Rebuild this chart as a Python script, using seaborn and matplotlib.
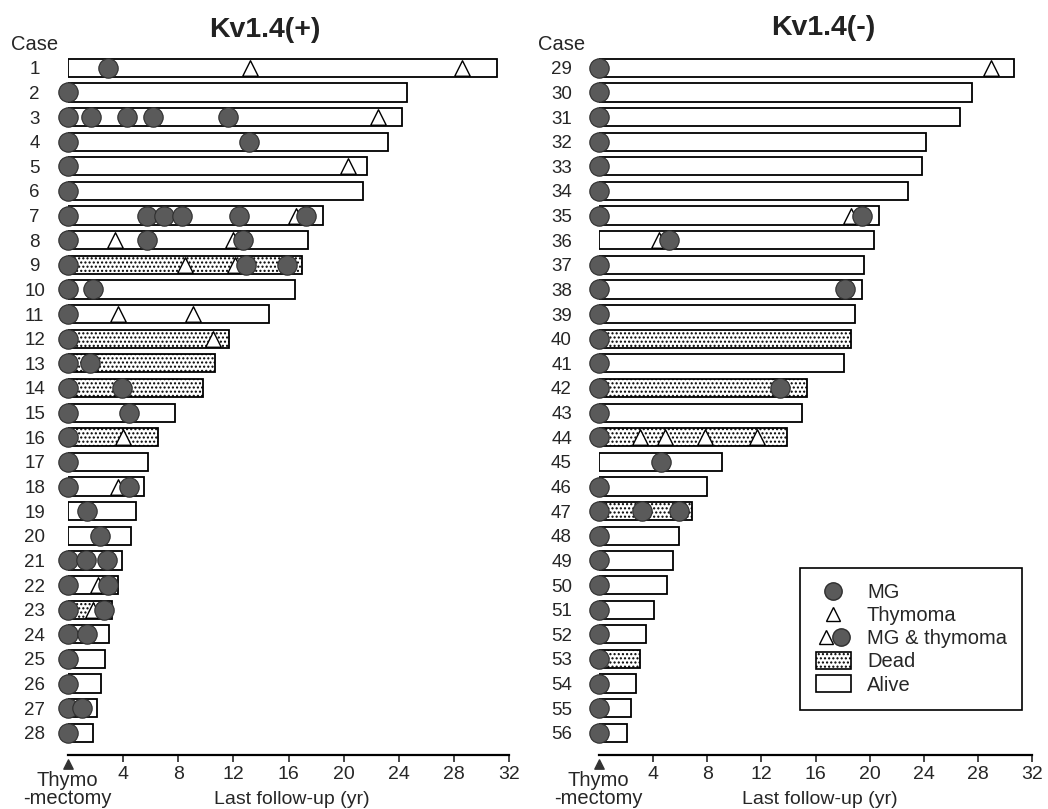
import matplotlib
matplotlib.use("Agg")
import matplotlib.pyplot as plt
import matplotlib.transforms as mtransforms
from matplotlib.lines import Line2D
from matplotlib.patches import Patch
from matplotlib.legend_handler import HandlerTuple
import numpy as np
import pandas as pd
import seaborn as sns

sns.set_style("white")
plt.rcParams["font.family"] = ["Liberation Sans", "DejaVu Sans"]
plt.rcParams["hatch.linewidth"] = 1.0
plt.rcParams["hatch.color"] = "black"

# ---------------- data: Kv1.4(+) ----------------
pos_cases = list(range(1, 29))
pos_followup = [31.1, 24.6, 24.2, 23.2, 21.7, 21.4, 18.5, 17.4, 17.0, 16.5,
                14.6, 11.7, 10.7, 9.8, 7.8, 6.5, 5.8, 5.5, 4.9, 4.6,
                3.9, 3.6, 3.2, 3.0, 2.7, 2.4, 2.1, 1.8]
pos_dead = [9, 12, 13, 14, 16, 23]
pos_mg = {1: [2.9], 2: [0], 3: [0, 1.7, 4.3, 6.2, 11.6], 4: [0, 13.1], 5: [0],
          6: [0], 7: [0, 5.7, 7.0, 8.3, 12.4], 8: [0, 5.7], 9: [0, 15.9],
          10: [0, 1.8], 11: [0], 12: [0], 13: [0, 1.6], 14: [0, 3.9],
          15: [0, 4.4], 16: [0], 17: [0], 18: [0], 19: [1.4], 20: [2.3],
          21: [0, 1.3, 2.8], 22: [0], 23: [0], 24: [0, 1.4], 25: [0], 26: [0],
          27: [0, 1.0], 28: [0]}
pos_thymoma = {1: [13.2, 28.6], 3: [22.5], 5: [20.3], 8: [3.4], 9: [8.5],
               11: [3.6, 9.1], 12: [10.5], 16: [4.0]}
pos_both = {7: [17.3], 8: [12.7], 9: [12.9], 18: [4.4], 22: [2.9], 23: [2.6]}

# ---------------- data: Kv1.4(-) ----------------
neg_cases = list(range(29, 57))
neg_followup = [30.7, 27.6, 26.7, 24.2, 23.9, 22.8, 20.7, 20.3, 19.6, 19.4,
                18.9, 18.6, 18.1, 15.4, 15.0, 13.9, 9.1, 8.0, 6.9, 5.9,
                5.5, 5.0, 4.1, 3.5, 3.0, 2.7, 2.4, 2.1]
neg_dead = [40, 42, 44, 47, 53]
neg_mg = {c: [0] for c in neg_cases if c not in (36, 45)}
neg_mg[38] = [0, 18.2]
neg_mg[42] = [0, 13.4]
neg_mg[45] = [4.6]
neg_mg[47] = [0, 3.2, 5.9]
neg_thymoma = {29: [29.0], 44: [3.0, 4.9, 7.8, 11.7]}
neg_both = {35: [19.4], 36: [5.2]}

xticks = [4, 8, 12, 16, 20, 24, 28, 32]

MG_COLOR = "#5a5a5a"
MG_EDGE = "#2e2e2e"

W, H = 1048, 809
fig = plt.figure(figsize=(W / 100, H / 100), dpi=100)


def events_df(events, idx):
    rows = [(idx[c], y) for c, ys in events.items() for y in ys]
    return pd.DataFrame(rows, columns=["row", "year"])


def draw(ax, cases, followup, dead, mg, thy, both, label_pad):
    df = pd.DataFrame({"case": [str(c) for c in cases],
                       "followup": followup,
                       "status": ["Dead" if c in dead else "Alive" for c in cases]})
    sns.barplot(data=df, x="followup", y="case", order=list(df["case"]),
                orient="h", color="white", saturation=1, edgecolor="black",
                linewidth=1.3, width=0.74, errorbar=None, ax=ax, zorder=2)
    for patch, st in zip(ax.patches, df["status"]):
        if st == "Dead":
            patch.set_hatch("....")
    idx = {c: i for i, c in enumerate(cases)}

    tdf = events_df(thy, idx)
    if len(tdf):
        sns.scatterplot(data=tdf, x="year", y="row", marker="^", s=125,
                        color="white", edgecolor="black", linewidth=1.0,
                        ax=ax, zorder=4, clip_on=False, legend=False)
    bdf = events_df(both, idx)
    if len(bdf):
        bdf_t = bdf.assign(year=bdf["year"] - 0.75)
        sns.scatterplot(data=bdf_t, x="year", y="row", marker="^", s=125,
                        color="white", edgecolor="black", linewidth=1.0,
                        ax=ax, zorder=4, clip_on=False, legend=False)
        sns.scatterplot(data=bdf, x="year", y="row", marker="o", s=195,
                        color=MG_COLOR, edgecolor=MG_EDGE, linewidth=0.8,
                        ax=ax, zorder=5, clip_on=False, legend=False)
    mdf = events_df(mg, idx)
    sns.scatterplot(data=mdf, x="year", y="row", marker="o", s=195,
                    color=MG_COLOR, edgecolor=MG_EDGE, linewidth=0.8,
                    ax=ax, zorder=5, clip_on=False, legend=False)

    ax.set_xlim(0, 32)
    ax.set_ylim(27.9, -0.6)
    ax.set_xticks(xticks)
    ax.set_xticklabels([str(t) for t in xticks])
    ax.set_yticks(range(len(cases)))
    ax.set_yticklabels([str(c) for c in cases])
    for lab in ax.get_yticklabels():
        lab.set_horizontalalignment("center")
    ax.tick_params(axis="y", length=0, pad=label_pad, labelsize=13.5)
    ax.tick_params(axis="x", direction="out", length=5, width=1.2,
                   labelsize=14, pad=3, bottom=True)
    ax.set_xlabel("")
    ax.set_ylabel("")
    for s in ["top", "right", "left"]:
        ax.spines[s].set_visible(False)
    ax.spines["bottom"].set_linewidth(1.6)
    ax.spines["bottom"].set_color("black")
    ax.spines["bottom"].set_bounds(0, 32)
    ax.grid(False)
    # thymectomy marker at time zero
    trans = mtransforms.blended_transform_factory(ax.transData, ax.transAxes)
    ax.scatter([0], [-0.013], marker="^", s=45, color="#333333",
               transform=trans, clip_on=False, zorder=6)


bottom = 1 - 755 / H
height = (755 - 53) / H
ax1 = fig.add_axes([68 / W, bottom, 441 / W, height])
ax2 = fig.add_axes([599 / W, bottom, 433 / W, height])

draw(ax1, pos_cases, pos_followup, pos_dead, pos_mg, pos_thymoma, pos_both, 24)
draw(ax2, neg_cases, neg_followup, neg_dead, neg_mg, neg_thymoma, neg_both, 27)

# titles and labels
fig.text(265 / W, 1 - 30 / H, "Kv1.4(+)", ha="center", va="center",
         fontsize=20.5, fontweight="bold", color="#222222")
fig.text(823 / W, 1 - 28 / H, "Kv1.4(-)", ha="center", va="center",
         fontsize=20.5, fontweight="bold", color="#222222")
fig.text(35 / W, 1 - 45 / H, "Case", ha="center", va="center", fontsize=14.5)
fig.text(562 / W, 1 - 44 / H, "Case", ha="center", va="center", fontsize=14.5)
for x0 in (67, 598):
    fig.text(x0 / W, 1 - 781 / H, "Thymo", ha="center", va="center", fontsize=14.5)
    fig.text(x0 / W, 1 - 799 / H, "-mectomy", ha="center", va="center", fontsize=14.5)
fig.text(292 / W, 1 - 799 / H, "Last follow-up (yr)", ha="center", va="center",
         fontsize=14)
fig.text(820 / W, 1 - 799 / H, "Last follow-up (yr)", ha="center", va="center",
         fontsize=14)

# legend
h_mg = Line2D([], [], linestyle="none", marker="o", markersize=12.5,
              markerfacecolor=MG_COLOR, markeredgecolor=MG_EDGE)
h_thy = Line2D([], [], linestyle="none", marker="^", markersize=9.5,
               markerfacecolor="white", markeredgecolor="black")
h_dead = Patch(facecolor="white", edgecolor="black", hatch="....", linewidth=1.2)
h_alive = Patch(facecolor="white", edgecolor="black", linewidth=1.2)
leg = ax2.legend([h_mg, h_thy, (h_thy, h_mg), h_dead, h_alive],
                 ["MG", "Thymoma", "MG & thymoma", "Dead", "Alive"],
                 handler_map={tuple: HandlerTuple(ndivide=None, pad=-0.3)},
                 loc="upper right", bbox_to_anchor=(0.977, 0.266),
                 frameon=True, fancybox=False, edgecolor="black", framealpha=1,
                 fontsize=14.5, handlelength=1.75, handleheight=0.85,
                 labelspacing=0.2, borderpad=0.75, handletextpad=0.8,
                 borderaxespad=0)
leg.get_frame().set_linewidth(1.2)

fig.savefig("out.png", dpi=100)
